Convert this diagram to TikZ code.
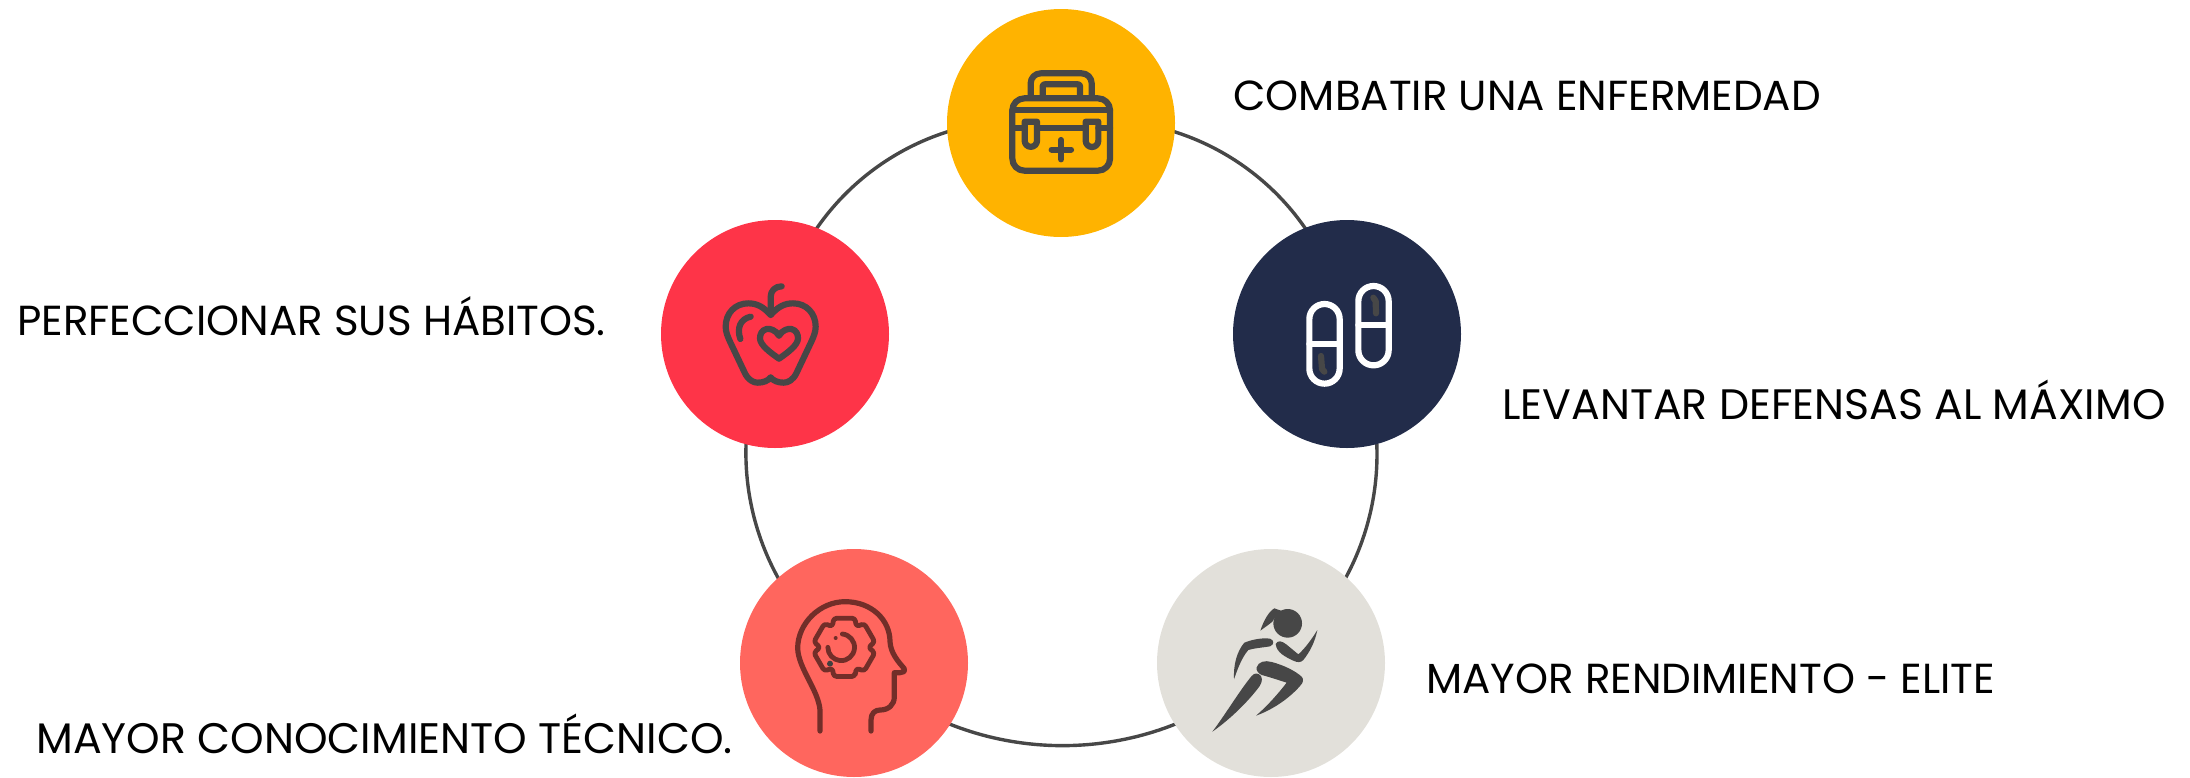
\documentclass[tikz,border=0pt]{standalone}
\usepackage{fontspec}
\setmainfont{Poppins}
\usetikzlibrary{positioning, backgrounds}
\definecolor{inkgrey}{HTML}{474747}
\definecolor{brown}{HTML}{722E29}
\definecolor{cyellow}{HTML}{FFB300}
\definecolor{cnavy}{HTML}{222C4A}
\definecolor{cred}{HTML}{FE3448}
\definecolor{cbeige}{HTML}{E2E0DA}
\definecolor{csalmon}{HTML}{FF665E}
\tikzset{
  disc/.style={circle, fill=#1, minimum size=114pt, inner sep=0pt},
  rim/.style={draw=inkgrey, line width=1.7pt},
  lbl/.style={anchor=base west, inner sep=0pt, text=black, font=\fontsize{#1}{24pt}\selectfont},
  lbl/.default=21pt,
  glyph/.style={draw=inkgrey, line width=3.1pt, line cap=round, line join=round},
  zoomed/.style={x=0.16667pt, y=-0.16667pt},
}
\begin{document}
\begin{tikzpicture}[x=0.5pt, y=-0.5pt]
\useasboundingbox (0,0) rectangle (2190,777);
% circles
\node (kit) [disc=cyellow] at (1061,123) {};
\node (pills) [disc=cnavy] at (1347,334) {};
\node (runner) [disc=cbeige] at (1271,663) {};
\node (brain) [disc=csalmon] at (854,663) {};
\node (apple) [disc=cred] at (775,334) {};
% ring
\begin{pgfonlayer}{background}
\draw [rim] (kit.center) to [bend left=45, looseness=1] (pills.center);
\draw [rim] (pills.center) to [bend left=41, looseness=0.97] (runner.center);
\draw [rim] (runner.center) to [bend left=43.4, looseness=0.986] (brain.center);
\draw [rim] (brain.center) to [bend left=41, looseness=0.97] (apple.center);
\draw [rim] (apple.center) to [bend left=45, looseness=1] (kit.center);
\end{pgfonlayer}
% labels
\node (t1) [lbl] at (1233,110) {COMBATIR UNA ENFERMEDAD};
\node (t2) [lbl=21.3pt] at (1502,419) {LEVANTAR DEFENSAS AL MÁXIMO};
\node (t3) [lbl] at (1426,693) {MAYOR RENDIMIENTO - ELITE};
\node (t4) [lbl=21.35pt] at (36,753) {MAYOR CONOCIMIENTO TÉCNICO.};
\node (t5) [lbl] at (17,335) {PERFECCIONAR SUS HÁBITOS.};
% briefcase
\begin{scope}[shift={(470pt,0pt)}, zoomed]
\draw [glyph, rounded corners=6pt] (217,295) rectangle (510,512);
\draw [glyph] (217,330) -- (510,330);
\draw [glyph, rounded corners=5pt] (272,292) -- (272,220) -- (455,220) -- (455,292);
\draw [glyph, rounded corners=1pt] (308,292) -- (308,253) -- (420,253) -- (420,292);
\draw [glyph] (217,385) -- (254,385) (291,385) -- (437,385) (475,385) -- (510,385);
\draw [glyph] (254,365) -- (291,365) -- (291,422) arc [start angle=0, end angle=180, radius=18.5] -- cycle;
\draw [glyph] (437,365) -- (475,365) -- (475,422) arc [start angle=0, end angle=180, radius=19] -- cycle;
\draw [glyph] (363,420) -- (363,478) (335,449) -- (393,449);
\end{scope}
% capsules
\begin{scope}[shift={(615pt,-107.5pt)}, zoomed]
\draw [glyph, draw=white] (238,312.5) arc [start angle=180, end angle=360, radius=45.5] -- (329,460.5) arc [start angle=0, end angle=180, radius=45.5] -- cycle;
\draw [glyph, draw=white] (238,386) -- (329,386);
\draw [glyph] (273,423) -- (276,462) -- (283,470);
\draw [glyph, draw=white] (385,258.5) arc [start angle=180, end angle=360, radius=45.5] -- (476,405.5) arc [start angle=0, end angle=180, radius=45.5] -- cycle;
\draw [glyph, draw=white] (385,331) -- (476,331);
\draw [glyph] (430,248) -- (437,258) -- (438,295);
\end{scope}
% apple
\begin{scope}[shift={(327.5pt,-107.5pt)}, zoomed]
\draw [glyph] (347,298) -- (347,245) .. controls (347,228) and (360,214) .. (380,214);
\draw [glyph] (347,300) .. controls (325,275) and (305,265) .. (280,265) .. controls (240,265) and (212,295) .. (212,335) .. controls (212,350) and (218,365) .. (225,380) -- (270,475) .. controls (280,495) and (295,503) .. (308,503) .. controls (325,503) and (340,497) .. (347,487) .. controls (354,497) and (369,503) .. (386,503) .. controls (399,503) and (414,495) .. (424,475) -- (469,380) .. controls (476,365) and (482,350) .. (482,335) .. controls (482,295) and (454,265) .. (414,265) .. controls (389,265) and (369,275) .. (347,300);
\draw [glyph] (256,372) .. controls (245,340) and (255,312) .. (287,305);
\draw [glyph] (372,362) .. controls (362,345) and (345,340) .. (335,342) .. controls (320,345) and (315,358) .. (315,370) .. controls (315,390) and (345,412) .. (372,431) .. controls (399,412) and (429,390) .. (429,370) .. controls (429,358) and (424,345) .. (409,342) .. controls (399,340) and (382,345) .. (372,362);
\end{scope}
% runner
\begin{scope}[shift={(577.5pt,-270pt)}, zoomed]
\fill [inkgrey] (398,250) circle [radius=43];
\fill [inkgrey] (316,272) .. controls (325,245) and (340,215) .. (358,205) -- (378,212) .. controls (365,225) and (358,235) .. (352,245) .. controls (340,255) and (328,263) .. (316,272);
\fill [inkgrey] (237,418) .. controls (235,375) and (245,335) .. (268,308) .. controls (295,297) and (325,293) .. (345,296) .. controls (358,300) and (358,314) .. (345,319) .. controls (320,323) and (295,325) .. (280,330) .. controls (262,350) and (248,385) .. (237,418);
\fill [inkgrey] (362,312) .. controls (368,300) and (380,302) .. (395,314) -- (430,343) .. controls (450,325) and (470,298) .. (487,270) .. controls (480,305) and (465,335) .. (445,360) .. controls (437,368) and (428,368) .. (415,362) .. controls (390,350) and (365,338) .. (362,312);
\fill [inkgrey] (305,382) .. controls (310,365) and (330,360) .. (350,366) .. controls (385,375) and (420,392) .. (440,410) .. controls (447,418) and (445,428) .. (435,438) .. controls (400,478) and (350,510) .. (303,527) .. controls (340,495) and (370,460) .. (395,428) .. controls (370,420) and (340,410) .. (320,405) .. controls (310,400) and (303,392) .. (305,382);
\fill [inkgrey] (172,575) .. controls (210,525) and (255,450) .. (290,408) .. controls (298,398) and (310,398) .. (318,408) .. controls (325,420) and (318,435) .. (305,450) .. controls (265,500) and (215,545) .. (172,575);
\end{scope}
% head with gear
\begin{scope}[shift={(367.5pt,-270pt)}, zoomed]
\draw [glyph, draw=brown, line width=2.6pt] (255,573) -- (255,510) .. controls (250,450) and (190,385) .. (188,325) .. controls (188,250) and (255,185) .. (330,185) .. controls (410,185) and (465,240) .. (465,305) .. controls (467,340) and (490,365) .. (507,385) .. controls (512,395) and (503,398) .. (495,398) -- (478,398) -- (478,470) .. controls (478,495) and (460,510) .. (435,510) .. controls (420,510) and (408,520) .. (408,540) -- (408,573);
\begin{scope}[shift={(328,322)}]
\draw [glyph, draw=brown, line width=2.4pt, rounded corners=1.5pt] (70:93) \foreach \a in {90,150,...,390} { -- (\a-20:93) -- (\a+20:93) -- (\a+30:72) } -- cycle;
\draw [glyph, draw=brown, line width=2.4pt] (-6,-40) arc [start angle=-85, end angle=180, radius=40];
\fill [brown] (-26,-28) circle [radius=6];
\fill [black!75] (-43,49) circle [radius=9];
\end{scope}
\end{scope}
\end{tikzpicture}
\end{document}
